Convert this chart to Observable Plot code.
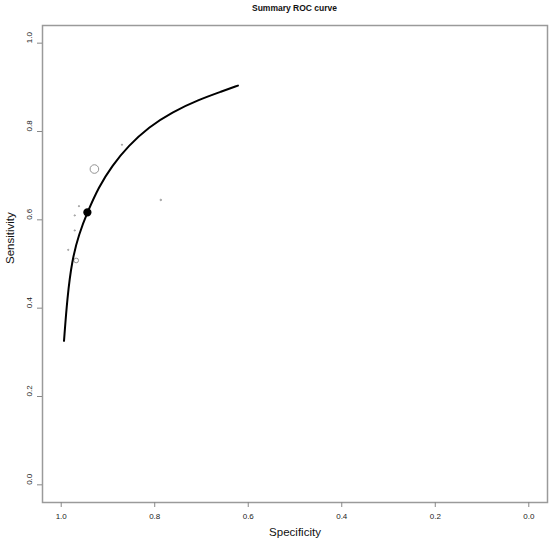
<!DOCTYPE html>
<html>
<head>
<meta charset="utf-8">
<script src="https://cdn.jsdelivr.net/npm/d3@7"></script>
<script src="https://cdn.jsdelivr.net/npm/@observablehq/plot@0.6"></script>
<style>
  html, body { margin: 0; padding: 0; background: #fff; }
  #title { width: 550px; height: 18px; box-sizing: border-box; padding-left: 39px;
           text-align: center; font: bold 8.5px "Liberation Sans", Arial, sans-serif;
           line-height: 16px; color: #111; }
</style>
</head>
<body>
<div id="title">Summary ROC curve</div>
<div id="chart"></div>
<script>
// Fitted summary ROC curve (specificity, sensitivity)
const curveSpec = [0.994, 0.987, 0.977, 0.962, 0.944, 0.920, 0.891, 0.856, 0.813, 0.763, 0.706, 0.656, 0.622];
const curveSens = [0.326, 0.424, 0.508, 0.568, 0.617, 0.674, 0.723, 0.768, 0.810, 0.844, 0.872, 0.891, 0.904];

// Individual studies (specificity, sensitivity, relative weight)
const studySpec   = [0.929, 0.968, 0.870, 0.787, 0.962, 0.971, 0.971, 0.985];
const studySens   = [0.715, 0.508, 0.770, 0.645, 0.631, 0.610, 0.576, 0.532];
const studyWeight = [1.00, 0.30, 0.02, 0.03, 0.02, 0.02, 0.02, 0.02];

// Summary point
const summarySpec = [0.944];
const summarySens = [0.617];

// Axis ticks
const xTicks = [1.0, 0.8, 0.6, 0.4, 0.2, 0.0];
const yTicks = [0.0, 0.2, 0.4, 0.6, 0.8, 1.0];

const curve = curveSpec.map((s, i) => ({spec: s, sens: curveSens[i]}));
const studies = studySpec.map((s, i) => ({spec: s, sens: studySens[i], w: studyWeight[i]}));
const summary = summarySpec.map((s, i) => ({spec: s, sens: summarySens[i]}));

const font = "'Liberation Sans', Arial, sans-serif";

const chart = Plot.plot({
  width: 550,
  height: 525,
  marginLeft: 42,
  marginRight: 3,
  marginTop: 7,
  marginBottom: 41,
  style: {fontFamily: font, fontSize: "8px", background: "#fff"},
  x: {domain: [1.04, -0.04], label: null, axis: null},
  y: {domain: [-0.04, 1.04], label: null, axis: null},
  r: {type: "sqrt", domain: [0, 1], range: [0, 4.3]},
  marks: [
    Plot.frame({stroke: "#9a9a9a", strokeWidth: 1.5}),
    Plot.axisX(xTicks, {tickSize: 5, tickPadding: 6, tickFormat: d => d.toFixed(1), stroke: "#888", fill: "#222", fontSize: 8}),
    Plot.axisY(yTicks, {tickSize: 5, tickFormat: () => "", stroke: "#888"}),
    Plot.text(yTicks, {y: d => d, frameAnchor: "left", dx: -13, rotate: -90, text: d => d.toFixed(1), fill: "#222", fontSize: 8}),
    Plot.text(["Specificity"], {frameAnchor: "bottom", dy: 33, text: d => d, fontSize: 11.5, fill: "#111"}),
    Plot.text(["Sensitivity"], {frameAnchor: "left", dx: -32, rotate: -90, text: d => d, fontSize: 11.5, fill: "#111"}),
    Plot.dot(studies, {x: "spec", y: "sens", r: "w", stroke: "#888", strokeWidth: 0.9, fill: "none"}),
    Plot.line(curve, {x: "spec", y: "sens", curve: "basis", stroke: "#000", strokeWidth: 2}),
    Plot.dot(summary, {x: "spec", y: "sens", r: 3.4, fill: "#000", stroke: "#000"})
  ]
});
document.getElementById("chart").appendChild(chart);
</script>
</body>
</html>
